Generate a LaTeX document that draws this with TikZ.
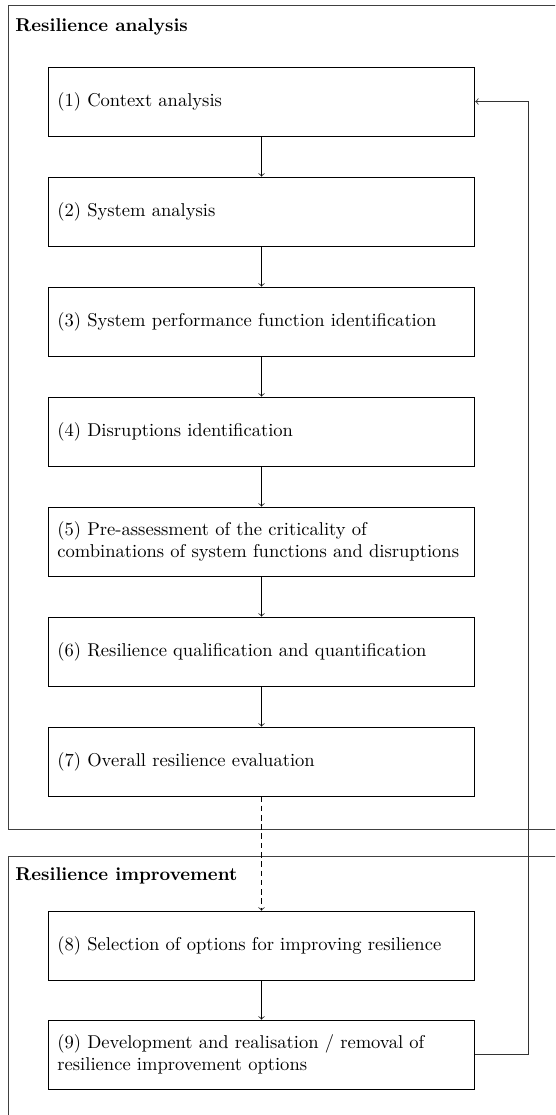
\documentclass[tikz,border=0pt]{standalone}
\usetikzlibrary{calc}
\begin{document}
\begin{tikzpicture}[x=0.539pt,y=-0.539pt,
  stepbox/.style={draw, rectangle, minimum width=230pt, minimum height=37.2pt,
    text width=220pt, inner xsep=5pt, align=left, font=\normalsize},
  grouptitle/.style={anchor=base west, inner sep=0pt, font=\bfseries},
  flow/.style={->},
  framelines/.style={draw=black!75}]
\clip (0,0) rectangle (555,1115);

% group frames (open to the right / bottom)
\draw[framelines] (570,5) -- (8,5) -- (8,829) -- (570,829);
\draw[framelines] (570,856) -- (8,856) -- (8,1130);

\node[grouptitle] (t1) at (15,32) {Resilience analysis};
\node[grouptitle] (t2) at (15,880) {Resilience improvement};

% analysis steps
\node[stepbox] (b1) at (261.5,101.5) {(1) Context analysis};
\node[stepbox] (b2) at (261.5,211.5) {(2) System analysis};
\node[stepbox] (b3) at (261.5,321.5) {(3) System performance function identification};
\node[stepbox] (b4) at (261.5,431.5) {(4) Disruptions identification};
\node[stepbox] (b5) at (261.5,541.5) {(5) Pre-assessment of the criticality of\\combinations of system functions and disruptions};
\node[stepbox] (b6) at (261.5,651.5) {(6) Resilience qualification and quantification};
\node[stepbox] (b7) at (261.5,761.5) {(7) Overall resilience evaluation};

% improvement steps
\node[stepbox] (b8) at (261.5,945.5) {(8) Selection of options for improving resilience};
\node[stepbox] (b9) at (261.5,1054.5) {(9) Development and realisation / removal of\\resilience improvement options};

\draw[flow] (b1) -- (b2);
\draw[flow] (b2) -- (b3);
\draw[flow] (b3) -- (b4);
\draw[flow] (b4) -- (b5);
\draw[flow] (b5) -- (b6);
\draw[flow] (b6) -- (b7);
\draw[flow, densely dashed] (b7) -- (b8);
\draw[flow] (b8) -- (b9);

% feedback loop back to the first step
\coordinate (fb) at (528,0);
\draw[flow, draw=black!80] (b9.east) -- (b9.east -| fb) |- (b1.east);
\end{tikzpicture}
\end{document}
